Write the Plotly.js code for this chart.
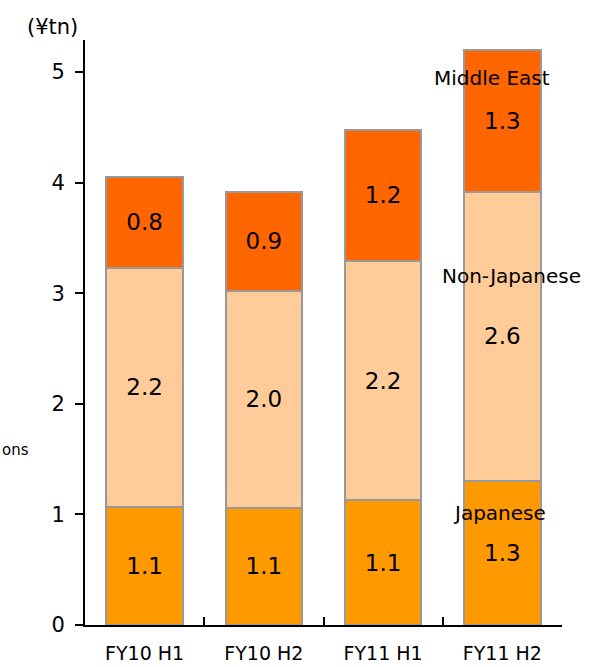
<!DOCTYPE html>
<html>
<head>
<meta charset="utf-8">
<script src="https://cdn.plot.ly/plotly-3.0.1.min.js"></script>
<style>html,body{margin:0;padding:0;background:#fff;}#chart{width:590px;height:667px;}</style>
</head>
<body>
<div id="chart"></div>
<script>
var categories = ['FY10 H1', 'FY10 H2', 'FY11 H1', 'FY11 H2'];
var japanese = [1.07, 1.06, 1.13, 1.30];
var nonJapanese = [2.16, 1.96, 2.16, 2.62];
var middleEast = [0.82, 0.90, 1.19, 1.28];
var japaneseLabels = ['1.1', '1.1', '1.1', '1.3'];
var nonJapaneseLabels = ['2.2', '2.0', '2.2', '2.6'];
var middleEastLabels = ['0.8', '0.9', '1.2', '1.3'];
var yTicks = [0, 1, 2, 3, 4, 5];

var font = 'DejaVu Sans, Verdana, sans-serif';
function bar(name, y, text, color) {
  return {
    type: 'bar', name: name, x: categories, y: y, text: text,
    textposition: 'inside', insidetextanchor: 'middle', constraintext: 'none',
    textfont: {family: font, size: 23, color: '#000'},
    marker: {color: color, line: {color: '#999999', width: 2}},
    hoverinfo: 'none'
  };
}
var data = [
  bar('Japanese', japanese, japaneseLabels, '#FF9900'),
  bar('Non-Japanese', nonJapanese, nonJapaneseLabels, '#FFCC99'),
  bar('Middle East', middleEast, middleEastLabels, '#FF6600')
];
var layout = {
  width: 590, height: 667,
  margin: {l: 85, r: 28, t: 40, b: 42},
  barmode: 'stack', bargap: 0.36,
  showlegend: false,
  paper_bgcolor: '#fff', plot_bgcolor: '#fff',
  font: {family: font, color: '#000'},
  xaxis: {
    type: 'category', range: [-0.5, 3.5],
    showline: true, linecolor: '#000', linewidth: 2,
    ticks: 'inside', tickson: 'boundaries', ticklen: 8, tickwidth: 2, tickcolor: '#000',
    tickfont: {family: font, size: 19, color: '#000'},
    ticklabelstandoff: 10,
    showgrid: false, zeroline: false, fixedrange: true
  },
  yaxis: {
    range: [0, 5.29], tickvals: yTicks, ticktext: yTicks.map(String),
    showline: true, linecolor: '#000', linewidth: 2,
    ticks: 'outside', ticklen: 8, tickwidth: 2, tickcolor: '#000',
    tickfont: {family: font, size: 21, color: '#000'},
    ticklabelstandoff: 6,
    showgrid: false, zeroline: false, fixedrange: true
  },
  annotations: [
    {text: '(¥tn)', xref: 'paper', yref: 'paper', x: -0.01, y: 1.022, xanchor: 'right', yanchor: 'middle', showarrow: false, font: {family: font, size: 21}},
    {text: 'ons', xref: 'paper', yref: 'paper', x: -0.178, y: 0.299, xanchor: 'left', yanchor: 'middle', showarrow: false, font: {family: font, size: 15}},
    {text: 'Middle East', xref: 'x', yref: 'y', x: 2.916, y: 4.95, showarrow: false, font: {family: font, size: 20}},
    {text: 'Non-Japanese', xref: 'x', yref: 'y', x: 3.075, y: 3.155, showarrow: false, font: {family: font, size: 20}},
    {text: 'Japanese', xref: 'x', yref: 'y', x: 2.975, y: 1.013, showarrow: false, font: {family: font, size: 20}}
  ]
};
Plotly.newPlot('chart', data, layout, {displayModeBar: false, staticPlot: true});
</script>
</body>
</html>
